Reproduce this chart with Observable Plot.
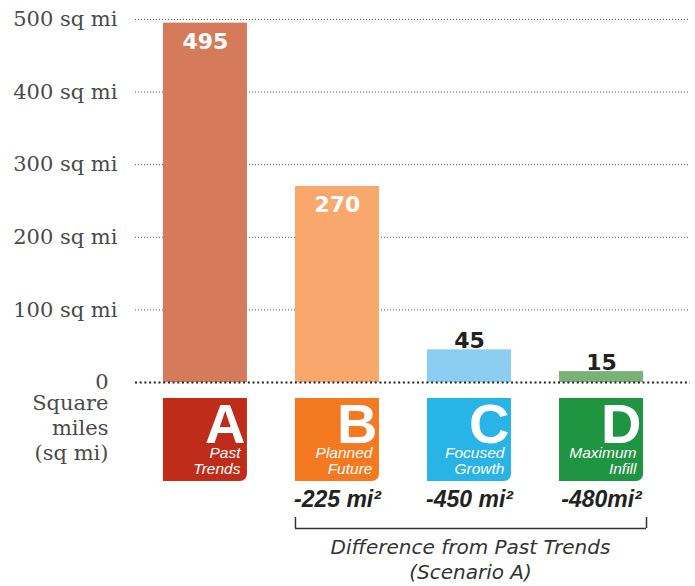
<!DOCTYPE html>
<html><head><meta charset="utf-8">
<script src="https://cdn.jsdelivr.net/npm/d3@7"></script>
<script src="https://cdn.jsdelivr.net/npm/@observablehq/plot@0.6"></script>
<style>body{margin:0;background:#fff}</style>
</head><body><div id="chart"></div>
<script>
const scenarios = ["A", "B", "C", "D"];
const scenarioNames = ["Past\nTrends", "Planned\nFuture", "Focused\nGrowth", "Maximum\nInfill"];
const areaSqMi = [495, 270, 45, 15];
const differenceLabels = [null, "-225 mi²", "-450 mi²", "-480mi²"];
const yTicks = [0, 100, 200, 300, 400, 500];
const yAxisTitle = "Square\nmiles\n(sq mi)";
const bracketTitle = "Difference from Past Trends\n(Scenario A)";

const barColors = ["#d57a5a", "#f8a76d", "#8ccef1", "#79b276"];
const badgeColors = ["#bf2d1a", "#f47920", "#29b4e8", "#1f9441"];

const data = scenarios.map((id, i) => ({id, name: scenarioNames[i], value: areaSqMi[i], diff: differenceLabels[i]}));
const idx = d => scenarios.indexOf(d.id);
const sans = "'Liberation Sans', Arial, sans-serif";
const wide = "'DejaVu Sans', sans-serif";
const serif = "'DejaVu Serif', Georgia, serif";

const chart = Plot.plot({
  width: 695, height: 586,
  marginTop: 19, marginBottom: 204, marginLeft: 135, marginRight: 5,
  style: {fontFamily: sans, background: "#fff", overflow: "visible"},
  x: {domain: scenarios, paddingInner: 0.364, paddingOuter: 0.284, align: 0.373, round: false, axis: null},
  y: {domain: [0, 500], axis: null},
  marks: [
    Plot.ruleY(yTicks.filter(d => d > 0), {stroke: "#555", strokeWidth: 1, strokeDasharray: "1,2"}),
    Plot.axisY(yTicks.filter(d => d > 0), {tickSize: 0, tickPadding: 18, tickFormat: d => `${d} sq mi`, fontSize: 21, fontFamily: serif, color: "#4a4a4a", label: null}),
    Plot.axisY([0], {tickSize: 0, tickPadding: 27, tickFormat: d => `${d}`, fontSize: 21, fontFamily: serif, color: "#4a4a4a", label: null}),
    Plot.barY(data, {x: "id", y: "value", fill: d => barColors[idx(d)]}),
    Plot.ruleY([0], {stroke: "#222", strokeWidth: 2, strokeDasharray: "2,2.7"}),
    Plot.text(data.filter(d => d.value > 100), {x: "id", y: "value", text: d => String(d.value), dy: 26, lineAnchor: "bottom", fill: "white", fontSize: 22, fontWeight: "bold", fontFamily: wide}),
    Plot.text(data.filter(d => d.value <= 100), {x: "id", y: "value", text: d => String(d.value), dy: -2, lineAnchor: "bottom", fill: "#222", fontSize: 22, fontWeight: "bold", fontFamily: wide}),
    // badges
    Plot.barY(data, {x: "id", y1: 0, y2: 0, insetTop: 16, insetBottom: -99, fill: d => badgeColors[idx(d)], rx2y2: 7}),
    Plot.text(data, {x: "id", text: "id", frameAnchor: "bottom", dx: 40, dy: 60, lineAnchor: "bottom", textAnchor: "end", fill: "white", fontSize: 56, fontWeight: "bold", fontFamily: sans}),
    Plot.text(data, {x: "id", text: "name", frameAnchor: "bottom", dx: 35, dy: 91, lineAnchor: "bottom", textAnchor: "end", fill: "white", fontSize: 15.5, fontStyle: "italic", lineHeight: 1.03}),
    Plot.text(data.filter(d => d.diff), {x: "id", text: "diff", frameAnchor: "bottom", dy: 124, lineAnchor: "bottom", fill: "#222", fontSize: 23, fontWeight: "bold", fontStyle: "italic"}),
    // bracket
    Plot.ruleY([0], {x1: () => scenarios[1], x2: () => scenarios[3], dy: 146, insetRight: -3, stroke: "#333", strokeWidth: 1.5}),
    Plot.ruleX([scenarios[1]], {y1: 0, y2: 0, insetTop: 135, insetBottom: -146, dx: -42, stroke: "#333", strokeWidth: 1.5}),
    Plot.ruleX([scenarios[3]], {y1: 0, y2: 0, insetTop: 135, insetBottom: -146, dx: 45, stroke: "#333", strokeWidth: 1.5}),
    Plot.text([bracketTitle], {x: () => scenarios[2], frameAnchor: "bottom", dx: 1, dy: 196, lineAnchor: "bottom", fill: "#333", fontSize: 20, fontStyle: "italic", fontFamily: wide, lineHeight: 1.25}),
    // y-axis title
    Plot.text([yAxisTitle], {frameAnchor: "bottom-left", dx: -27, dy: 77, lineAnchor: "bottom", textAnchor: "end", fill: "#4a4a4a", fontSize: 21, fontFamily: serif, lineHeight: 1.17})
  ]
});
document.getElementById("chart").appendChild(chart);
</script>
</body></html>
